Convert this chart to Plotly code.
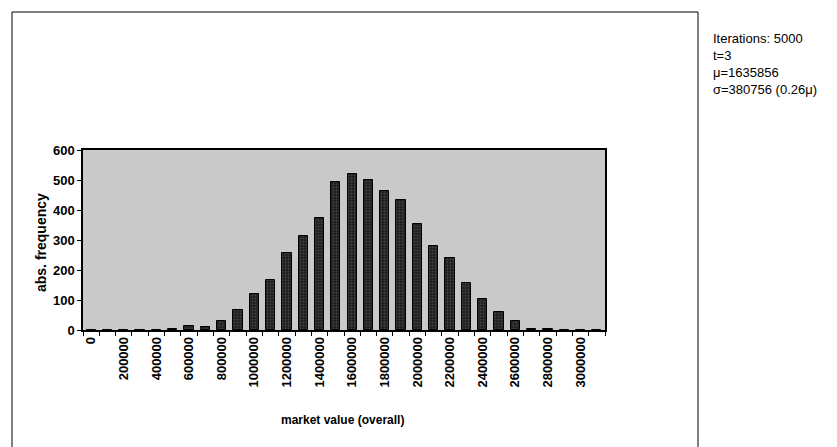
import plotly.graph_objects as go

# Histogram data (category = market value bin, value = absolute frequency)
bins = [i * 100000 for i in range(32)]
freq = [0, 0, 0, 0, 1, 4, 12, 9, 30, 68, 121, 166, 257, 314, 373, 495,
        519, 499, 462, 433, 353, 279, 240, 157, 104, 61, 29, 3, 2, 1, 0, 0]
tick_vals = [i * 200000 for i in range(16)]
tick_text = [str(v) for v in tick_vals]
y_ticks = [0, 100, 200, 300, 400, 500, 600]
info_lines = ["Iterations: 5000", "t=3", "\u03bc=1635856", "\u03c3=380756 (0.26\u03bc)"]

W, H = 837, 447
L, R, T, B = 75, 597, 142, 322  # plot area in pixels

def px(x):
    return (x - L) / (R - L)

def py(y):
    return (B - y) / (B - T)

fig = go.Figure()
fig.add_trace(go.Bar(
    x=bins, y=freq, width=57000,
    marker=dict(color="#2e2e2e", line=dict(color="black", width=1),
                pattern=dict(shape=".", fgcolor="#6a6a6a", bgcolor="#1e1e1e",
                             size=3, solidity=0.3)),
    showlegend=False,
))

font_family = "Liberation Sans, Arial, sans-serif"

fig.update_layout(
    width=W, height=H,
    margin=dict(l=L, r=W - R, t=T, b=H - B),
    paper_bgcolor="white",
    plot_bgcolor="#c9c9c9",
    font=dict(family=font_family, color="black"),
    bargap=0,
    xaxis=dict(
        range=[-50000, 3150000],
        tickmode="array", tickvals=tick_vals, ticktext=tick_text,
        tickangle=-90, ticks="", ticklen=0,
        tickfont=dict(size=13, family="Liberation Sans, Arial", weight="bold"),
        showgrid=False, zeroline=False,
        showline=True, linecolor="black", linewidth=1.5, mirror=True,
        minor=dict(tick0=50000, dtick=100000, ticks="outside", ticklen=4,
                   tickcolor="black", showgrid=False),
    ),
    yaxis=dict(
        range=[0, 600],
        tickmode="array", tickvals=y_ticks,
        ticks="outside", ticklen=4, tickcolor="black",
        tickfont=dict(size=13, family="Liberation Sans, Arial", weight="bold"),
        showgrid=False, zeroline=False,
        showline=True, linecolor="black", linewidth=1.5, mirror=True,
    ),
)

# outer frame (left, top, right)
x0, x1 = px(4), px(690)
y0, y1 = py(445), py(4)
for (ax0, ay0, ax1, ay1) in [(x0, y0, x0, y1), (x0, y1, x1, y1), (x1, y1, x1, y0)]:
    fig.add_shape(type="line", xref="paper", yref="paper",
                  x0=ax0, y0=ay0, x1=ax1, y1=ay1,
                  line=dict(color="black", width=1))
fig.add_shape(type="line", xref="paper", yref="paper",
              x0=x0, y0=y0, x1=x1, y1=y0, line=dict(color="#d8d8d8", width=1))

# axis titles
fig.add_annotation(text="<b>abs. frequency</b>", xref="paper", yref="paper",
                   x=px(33), y=py(235), textangle=-90, showarrow=False,
                   xanchor="center", yanchor="middle",
                   font=dict(size=14, family=font_family))
fig.add_annotation(text="<b>market value (overall)</b>", xref="paper", yref="paper",
                   x=px(334), y=py(412), showarrow=False,
                   xanchor="center", yanchor="middle",
                   font=dict(size=12, family=font_family))

# info text block
fig.add_annotation(text="<br>".join(info_lines), xref="paper", yref="paper",
                   x=px(703), y=py(56), showarrow=False, align="left",
                   xanchor="left", yanchor="middle",
                   font=dict(size=13, family=font_family))

fig.write_html("out.html")
